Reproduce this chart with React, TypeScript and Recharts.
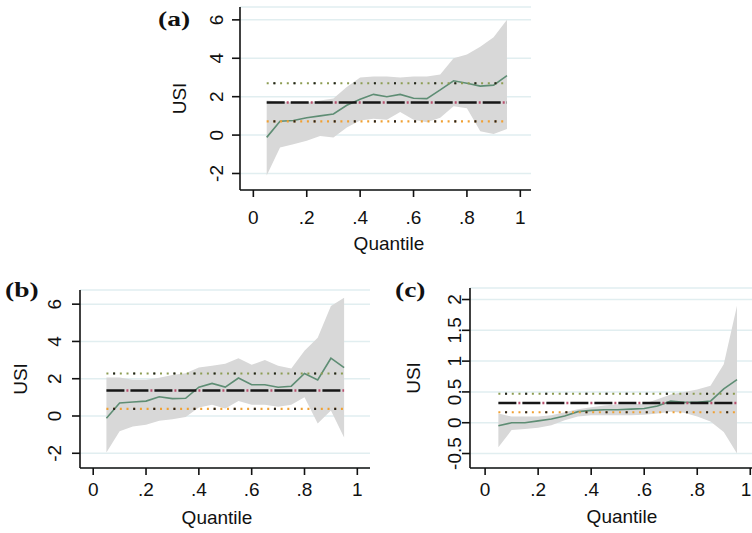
import { ComposedChart, Area, Line, XAxis, YAxis, CartesianGrid } from "recharts"

// quantiles at which the regressions were run
const QUANTILES = [0.05, 0.1, 0.15, 0.2, 0.25, 0.3, 0.35, 0.4, 0.45, 0.5, 0.55, 0.6, 0.65, 0.7, 0.75, 0.8, 0.85, 0.9, 0.95]

// panel (a)
const EST_A = [-0.12, 0.72, 0.76, 0.9, 1.0, 1.1, 1.55, 1.86, 2.12, 2.0, 2.12, 1.92, 1.9, 2.35, 2.83, 2.7, 2.55, 2.6, 3.1]
const HI_A = [1.8, 1.75, 1.7, 1.68, 1.8, 1.9, 2.5, 3.0, 3.05, 3.05, 3.0, 3.05, 3.05, 3.15, 4.0, 4.2, 4.6, 5.1, 6.0]
const LO_A = [-2.1, -0.65, -0.48, -0.3, -0.05, -0.12, 0.4, 0.76, 0.85, 0.8, 1.2, 0.8, 0.67, 0.9, 1.5, 1.4, 0.2, 0.05, 0.32]
const OLS_A = [1.7, 0.71, 2.7] // estimate, lower, upper

// panel (b)
const EST_B = [-0.12, 0.7, 0.75, 0.8, 1.03, 0.93, 0.95, 1.55, 1.75, 1.55, 2.04, 1.68, 1.68, 1.54, 1.6, 2.28, 1.93, 3.1, 2.6]
const HI_B = [2.07, 2.07, 1.95, 1.95, 2.05, 2.2, 2.3, 2.6, 2.7, 2.8, 3.1, 2.75, 3.0, 2.7, 2.55, 3.5, 4.2, 5.9, 6.35]
const LO_B = [-1.96, -0.82, -0.56, -0.47, -0.25, -0.18, -0.05, 0.45, 0.6, 0.4, 0.8, 0.6, 0.6, 0.5, 0.6, 1.0, -0.4, 0.3, -1.15]
const OLS_B = [1.37, 0.38, 2.28]

// panel (c)
const EST_C = [-0.05, 0.0, 0.0, 0.03, 0.06, 0.11, 0.18, 0.2, 0.21, 0.21, 0.22, 0.23, 0.27, 0.35, 0.33, 0.33, 0.35, 0.55, 0.7]
const HI_C = [0.15, 0.1, 0.1, 0.1, 0.12, 0.17, 0.22, 0.25, 0.28, 0.3, 0.3, 0.31, 0.38, 0.46, 0.5, 0.54, 0.6, 0.95, 1.9]
const LO_C = [-0.4, -0.12, -0.1, -0.08, -0.04, 0.04, 0.1, 0.12, 0.12, 0.12, 0.12, 0.13, 0.15, 0.18, 0.16, 0.1, 0.02, -0.15, -0.5]
const OLS_C = [0.32, 0.17, 0.47]

const X_TICKS = [0, 0.2, 0.4, 0.6, 0.8, 1]
const Y_TICKS_AB = [-2, 0, 2, 4, 6]
const Y_TICKS_C = [-0.5, 0, 0.5, 1, 1.5, 2]

const SANS = "'Liberation Sans', Arial, sans-serif"
const INK = "#111"
const FS = 19

const fmtQ = (v: number) => (v === 0 || v === 1 ? String(v) : String(v).replace(/^0/, ""))

const YTick = ({ x, y, payload }: any) => (
  <text
    x={x}
    y={y}
    transform={`rotate(-90 ${x} ${y})`}
    textAnchor="middle"
    dominantBaseline="central"
    fontFamily={SANS}
    fontSize={FS}
    fill={INK}
  >
    {String(payload.value)}
  </text>
)

// keeps the last label inside the page when the axis runs off the edge
const XTick = ({ x, y, payload, maxX }: any) => (
  <text x={Math.min(x, maxX)} y={y} dy="0.71em" textAnchor="middle" fontFamily={SANS} fontSize={FS} fill={INK}>
    {fmtQ(payload.value)}
  </text>
)

const Panel = (p: any) => {
  const rows = QUANTILES.map((q, i) => ({
    q,
    est: p.est[i],
    band: [p.lo[i], p.hi[i]],
    ols: p.ols[0],
    olsLo: p.ols[1],
    olsHi: p.ols[2],
  }))
  const plotH = p.plotBottom - p.plotTop
  const left = p.axisX - 90
  const top = p.plotTop - 10
  const width = p.plotRight - left + 5
  const height = p.bottom - top
  const xAxisH = height - 10 - plotH
  const axisStyle = { stroke: INK, strokeWidth: 1.6 }

  return (
    <>
      <div style={{ position: "absolute", left, top }}>
        <ComposedChart width={width} height={height} data={rows} margin={{ top: 10, right: 5, bottom: 0, left: 0 }}>
          <CartesianGrid vertical={false} stroke="#e1eef0" strokeWidth={1.5} />
          <XAxis
            dataKey="q"
            type="number"
            domain={p.xDomain}
            ticks={X_TICKS}
            allowDataOverflow
            interval={0}
            height={xAxisH}
            tickSize={7}
            tickMargin={p.xTickMargin}
            tick={<XTick maxX={752 - left - 6} />}
            axisLine={axisStyle}
            tickLine={axisStyle}
            label={{
              content: () => (
                <text
                  x={p.quantileCx - left}
                  y={p.quantileTop - top + 13.6}
                  textAnchor="middle"
                  fontFamily={SANS}
                  fontSize={FS}
                  fill={INK}
                >
                  Quantile
                </text>
              ),
            }}
          />
          <YAxis
            type="number"
            domain={p.yDomain}
            ticks={p.yTicks}
            allowDataOverflow
            interval={0}
            width={90}
            tickSize={8}
            tickMargin={p.yTickMargin}
            tick={<YTick />}
            axisLine={axisStyle}
            tickLine={axisStyle}
            label={{
              content: () => {
                const cx = 90 - p.titleOff
                const cy = 10 + plotH / 2
                return (
                  <text
                    x={cx}
                    y={cy}
                    transform={`rotate(-90 ${cx} ${cy})`}
                    textAnchor="middle"
                    dominantBaseline="central"
                    fontFamily={SANS}
                    fontSize={FS}
                    fill={INK}
                  >
                    USI
                  </text>
                )
              },
            }}
          />
          <Area type="linear" dataKey="band" stroke="none" fill="#d8d8d8" fillOpacity={1} isAnimationActive={false} />
          <Line type="linear" dataKey="est" stroke="#5e8d74" strokeWidth={1.6} dot={false} isAnimationActive={false} />
          <Line type="linear" dataKey="olsHi" stroke="#8c9c52" strokeWidth={2.2} strokeDasharray="2 4.7" dot={false} isAnimationActive={false} />
          <Line type="linear" dataKey="olsHi" stroke="#222" strokeWidth={2.2} strokeDasharray="2 18.1" strokeDashoffset={-6.7} dot={false} isAnimationActive={false} />
          <Line type="linear" dataKey="olsLo" stroke="#f0a033" strokeWidth={2.2} strokeDasharray="2 4.7" dot={false} isAnimationActive={false} />
          <Line type="linear" dataKey="olsLo" stroke="#222" strokeWidth={2.2} strokeDasharray="2 18.1" strokeDashoffset={-6.7} dot={false} isAnimationActive={false} />
          <Line type="linear" dataKey="ols" stroke="#161616" strokeWidth={2.6} strokeDasharray="18 6" dot={false} isAnimationActive={false} />
          <Line type="linear" dataKey="ols" stroke="#b8506e" strokeWidth={2.6} strokeDasharray="2 22" strokeDashoffset={-20} dot={false} isAnimationActive={false} />
        </ComposedChart>
      </div>
      <div
        style={{
          position: "absolute",
          left: p.tag[0],
          top: p.tag[1],
          fontFamily: "'Liberation Serif', 'Times New Roman', serif",
          fontWeight: "bold",
          fontSize: 22,
          lineHeight: 1,
          transform: "scaleX(1.25)",
          transformOrigin: "left top",
          color: INK,
        }}
      >
        {p.name}
      </div>
    </>
  )
}

export default function App() {
  return (
    <div style={{ position: "absolute", left: 0, top: 0, width: 752, height: 533, overflow: "hidden", background: "#fff" }}>
      <Panel
        name="(a)"
        est={EST_A}
        lo={LO_A}
        hi={HI_A}
        ols={OLS_A}
        yTicks={Y_TICKS_AB}
        axisX={240}
        plotTop={7}
        plotBottom={190}
        plotRight={531}
        bottom={262}
        xDomain={[-0.05, 1.04]}
        yDomain={[-2.86, 6.67]}
        yTickMargin={15}
        xTickMargin={14}
        titleOff={60.5}
        quantileCx={389}
        quantileTop={236}
        tag={[158, 8]}
      />
      <Panel
        name="(b)"
        est={EST_B}
        lo={LO_B}
        hi={HI_B}
        ols={OLS_B}
        yTicks={Y_TICKS_AB}
        axisX={80}
        plotTop={290}
        plotBottom={468}
        plotRight={370}
        bottom={533}
        xDomain={[-0.05, 1.048]}
        yDomain={[-2.79, 6.76]}
        yTickMargin={17.5}
        xTickMargin={8}
        titleOff={60}
        quantileCx={217}
        quantileTop={510.7}
        tag={[5, 279]}
      />
      <Panel
        name="(c)"
        est={EST_C}
        lo={LO_C}
        hi={HI_C}
        ols={OLS_C}
        yTicks={Y_TICKS_C}
        axisX={470}
        plotTop={288}
        plotBottom={468}
        plotRight={763}
        bottom={533}
        xDomain={[-0.057, 1.048]}
        yDomain={[-0.735, 2.187]}
        yTickMargin={7}
        xTickMargin={8}
        titleOff={57}
        quantileCx={622}
        quantileTop={509.3}
        tag={[395, 279]}
      />
    </div>
  )
}
